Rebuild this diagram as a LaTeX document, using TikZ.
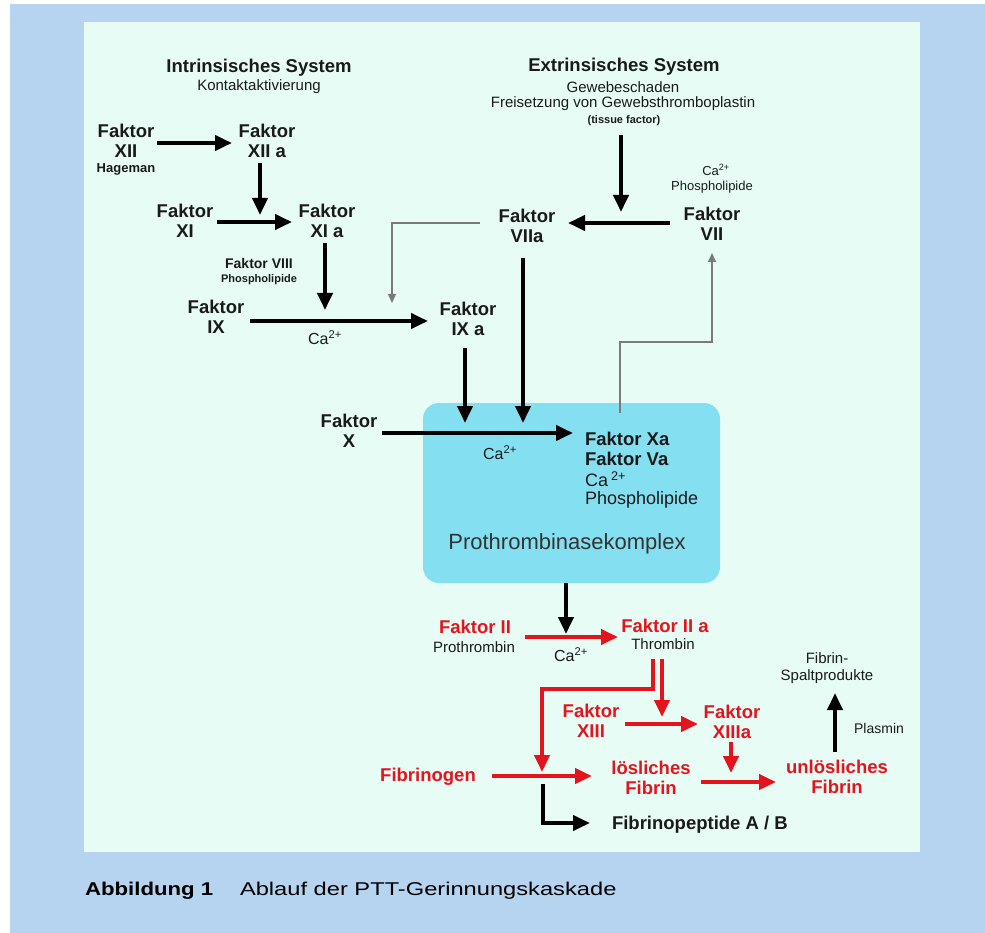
\documentclass[tikz,border=0pt]{standalone}
\usepackage{fontspec}
\setmainfont{Liberation Sans}
\usetikzlibrary{arrows.meta}
\definecolor{outerblue}{HTML}{B6D4EF}
\definecolor{panelc}{HTML}{E8FCF6}
\definecolor{cyanbox}{HTML}{84E0F1}
\definecolor{cred}{HTML}{E3141E}
\definecolor{gline}{HTML}{7A7A7A}
\definecolor{ink}{HTML}{1A1A1A}
\begin{document}
\begin{tikzpicture}[x=1pt,y=-1pt,
  every node/.style={inner sep=0pt, outer sep=0pt, text=ink},
  lbl/.style={font=\fontsize{18.5}{20}\selectfont\bfseries, align=center},
  rlbl/.style={lbl, text=cred},
  ttl/.style={font=\fontsize{18.5}{20}\selectfont\bfseries},
  sub/.style={font=\fontsize{15}{17}\selectfont, align=center},
  smallt/.style={font=\fontsize{13}{15}\selectfont},
  tinyb/.style={font=\fontsize{11}{13}\selectfont\bfseries},
  cat/.style={font=\fontsize{16}{18}\selectfont},
  thk/.style={draw=black, line width=4pt, -{Triangle[length=17pt,width=15pt]}},
  thkred/.style={draw=cred, line width=4pt, -{Triangle[length=17pt,width=15pt]}},
  thin/.style={draw=gline, line width=1.5pt, -{Triangle[length=9pt,width=8pt]}}
]
\useasboundingbox (0,0) rectangle (985,933);
\fill[white] (0,0) rectangle (985,933);
\fill[outerblue] (10,4) rectangle (985,933);
\fill[panelc] (84,22) rectangle (920,852);

% Prothrombinase box
\node[fill=cyanbox, rounded corners=16pt, minimum width=297pt, minimum height=180pt, anchor=north west] (box) at (423,403) {};

% Titles
\node[ttl] (intr) at (259,68) {Intrinsisches System};
\node[sub] (kontakt) at (259,87) {Kontaktaktivierung};
\node[ttl] (extr) at (624,67) {Extrinsisches System};
\node[sub] (gew) at (623,87) {Gewebeschaden};
\node[sub] (frei) at (623,104) {Freisetzung von Gewebsthromboplastin};
\node[font=\fontsize{11}{12}\selectfont\bfseries] (tissue) at (624,121) {(tissue factor)};

% Intrinsic cascade
\node[lbl] (f12) at (126,141) {Faktor\\XII};
\node[font=\fontsize{13}{15}\selectfont\bfseries] (hag) at (126,169) {Hageman};
\node[lbl] (f12a) at (267,141) {Faktor\\XII a};
\node[lbl] (f11) at (185,221) {Faktor\\XI};
\node[lbl] (f11a) at (327,221) {Faktor\\XI a};
\node[font=\fontsize{14}{16}\selectfont\bfseries] (f8) at (259,263) {Faktor VIII};
\node[tinyb] (phos8) at (259,280) {Phospholipide};
\node[lbl] (f9) at (216,317) {Faktor\\IX};
\node[cat] (ca1) at (325,338) {Ca\textsuperscript{2+}};
\node[lbl] (f9a) at (468,319) {Faktor\\IX a};

% Extrinsic cascade
\node[smallt] (ca7) at (716,170) {Ca\textsuperscript{2+}};
\node[smallt] (phos7) at (712,187) {Phospholipide};
\node[lbl] (f7) at (712,224) {Faktor\\VII};
\node[lbl] (f7a) at (527,226) {Faktor\\VIIa};

% Factor X
\node[lbl] (f10) at (349,431) {Faktor\\X};
\node[cat] (ca2) at (500,453) {Ca\textsuperscript{2+}};
\node[lbl, anchor=west] (f10a) at (585,439) {Faktor Xa};
\node[lbl, anchor=west] (f5a) at (585,459) {Faktor Va};
\node[font=\fontsize{18}{20}\selectfont, anchor=west] (ca4) at (585,479) {Ca\,\textsuperscript{2+}};
\node[font=\fontsize{18}{20}\selectfont, anchor=west] (phos10) at (585,500) {Phospholipide};
\node[font=\fontsize{22}{24}\selectfont, text=black!80] (ptk) at (567,544) {Prothrombinasekomplex};

% Thrombin part
\node[rlbl] (f2) at (475,627) {Faktor II};
\node[sub] (proth) at (474,647) {Prothrombin};
\node[cat] (ca3) at (571,655) {Ca\textsuperscript{2+}};
\node[rlbl] (f2a) at (665,626) {Faktor II a};
\node[sub] (thr) at (663,644) {Thrombin};
\node[rlbl] (f13) at (591,721) {Faktor\\XIII};
\node[rlbl] (f13a) at (732,722) {Faktor\\XIIIa};
\node[rlbl] (fgen) at (428,777) {Fibrinogen};
\node[rlbl] (lfib) at (651,778) {lösliches\\Fibrin};
\node[rlbl] (ufib) at (837,777) {unlösliches\\Fibrin};
\node[font=\fontsize{14}{16}\selectfont] (plas) at (879,728) {Plasmin};
\node[sub] (spalt) at (827,668) {Fibrin-\\Spaltprodukte};
\node[lbl, anchor=west] (fpep) at (612,825) {Fibrinopeptide A / B};

% Caption
\node[font=\fontsize{18.5}{22}\selectfont\bfseries, anchor=base west, text=black] (capa) at (85,895) {\scalebox{1.2}[1]{Abbildung 1}};
\node[font=\fontsize{18.5}{22}\selectfont, anchor=base west, text=black] (capb) at (240,895) {\scalebox{1.28}[1]{Ablauf der PTT-Gerinnungskaskade}};

% connector coordinates
\coordinate (c1s) at (157,143); \coordinate (c1e) at (232,143);
\coordinate (c2s) at (260,163); \coordinate (c2e) at (260,215);
\coordinate (c3s) at (217,222); \coordinate (c3e) at (292,222);
\coordinate (c4s) at (325,243); \coordinate (c4e) at (325,310);
\coordinate (c5s) at (250,321); \coordinate (c5e) at (428,321);
\coordinate (c6s) at (621,135); \coordinate (c6e) at (621,212);
\coordinate (c7s) at (670,223); \coordinate (c7e) at (568,223);
\coordinate (c8s) at (523,258); \coordinate (c8e) at (523,423);
\coordinate (c9s) at (465,348); \coordinate (c9e) at (465,423);
\coordinate (c10s) at (382,433); \coordinate (c10e) at (573,433);
\coordinate (c11s) at (566,583); \coordinate (c11e) at (566,634);

\draw[thk] (c1s) -- (c1e);
\draw[thk] (c2s) -- (c2e);
\draw[thk] (c3s) -- (c3e);
\draw[thk] (c4s) -- (c4e);
\draw[thk] (c5s) -- (c5e);
\draw[thk] (c6s) -- (c6e);
\draw[thk] (c7s) -- (c7e);
\draw[thk] (c8s) -- (c8e);
\draw[thk] (c9s) -- (c9e);
\draw[thk] (c10s) -- (c10e);
\draw[thk] (c11s) -- (c11e);

% gray feedback lines
\coordinate (g1s) at (480,223); \coordinate (g1e) at (392,303);
\draw[thin] (g1s) -| (g1e);
\coordinate (g2s) at (620,413); \coordinate (g2m) at (620,342); \coordinate (g2e) at (712,253);
\draw[thin] (g2s) -- (g2m) -| (g2e);

% red arrows
\coordinate (r1s) at (525,637); \coordinate (r1e) at (618,637);
\draw[thkred] (r1s) -- (r1e);
\coordinate (r2s) at (653,659); \coordinate (r2m) at (653,689); \coordinate (r2e) at (542,772);
\draw[thkred, line join=miter] (r2s) -- (r2m) -| (r2e);
\coordinate (r3s) at (662,659); \coordinate (r3e) at (662,717);
\draw[thkred] (r3s) -- (r3e);
\coordinate (r4s) at (625,724); \coordinate (r4e) at (698,724);
\draw[thkred] (r4s) -- (r4e);
\coordinate (r5s) at (492,776); \coordinate (r5e) at (592,776);
\draw[thkred] (r5s) -- (r5e);
\coordinate (r6s) at (731,742); \coordinate (r6e) at (731,773);
\draw[thkred] (r6s) -- (r6e);
\coordinate (r7s) at (701,782); \coordinate (r7e) at (776,782);
\draw[thkred] (r7s) -- (r7e);

% black lower arrows
\coordinate (b1s) at (835,752); \coordinate (b1e) at (835,693);
\draw[thk] (b1s) -- (b1e);
\coordinate (b2s) at (543,784); \coordinate (b2m) at (543,823); \coordinate (b2e) at (590,823);
\draw[thk, line join=miter] (b2s) -- (b2m) -- (b2e);
\end{tikzpicture}
\end{document}
